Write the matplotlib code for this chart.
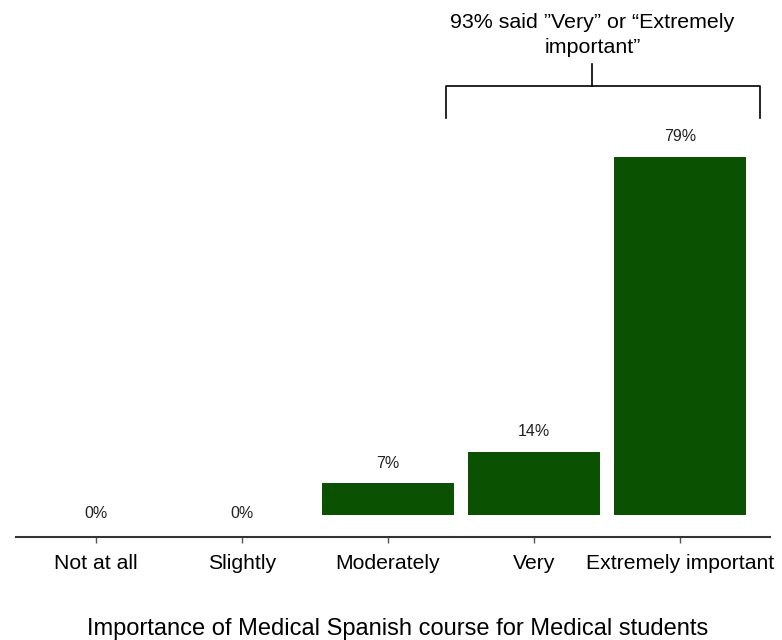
import matplotlib.pyplot as plt

plt.rcParams['font.family'] = ['Liberation Sans', 'DejaVu Sans']

categories = ["Not at all", "Slightly", "Moderately", "Very", "Extremely important"]
percents = [0, 0, 7, 14, 79]
value_labels = ["0%", "0%", "7%", "14%", "79%"]
bracket_note = "93% said \u201dVery\u201d or \u201cExtremely\nimportant\u201d"
x_title = "Importance of Medical Spanish course for Medical students"

bar_color = "#0b5102"

fig = plt.figure(figsize=(7.82, 6.40), dpi=100)
ax = fig.add_axes([16 / 782, 103 / 640, 754 / 782, 537 / 640])

x = list(range(len(categories)))
ax.bar(x, percents, width=0.9, color=bar_color, edgecolor="none")

for xi, v, lab in zip(x, percents, value_labels):
    off = 2.8 if v > 0 else -1.3
    ax.text(xi, v + off, lab, ha="center", va="bottom", fontsize=11.5, color="#222222")

# bracket over "Very" + "Extremely important"
left, right, mid = 2.40, 4.55, 3.40
y_bar, y_leg, y_stem = 94.7, 87.6, 99.6
ax.plot([left, left, right, right], [y_leg, y_bar, y_bar, y_leg], color="black", lw=1.2, clip_on=False)
ax.plot([mid, mid], [y_bar, y_stem], color="black", lw=1.2, clip_on=False)
ax.text(mid, 106.0, bracket_note, ha="center", va="center", fontsize=15.4, linespacing=1.45)

ax.set_xlim(-0.548, 4.616)
ax.set_ylim(-4.86, 113.7)
ax.set_xticks(x)
ax.set_xticklabels(categories, fontsize=15.2)
ax.set_yticks([])
for s in ["top", "right", "left"]:
    ax.spines[s].set_visible(False)
ax.spines["bottom"].set_color("#333333")
ax.spines["bottom"].set_linewidth(1.5)
ax.tick_params(axis="x", length=4, width=1, color="#555555", pad=8)

fig.text(398 / 782, 1 - 629 / 640, x_title, ha="center", va="center", fontsize=17)

fig.savefig("out.png", dpi=100)
